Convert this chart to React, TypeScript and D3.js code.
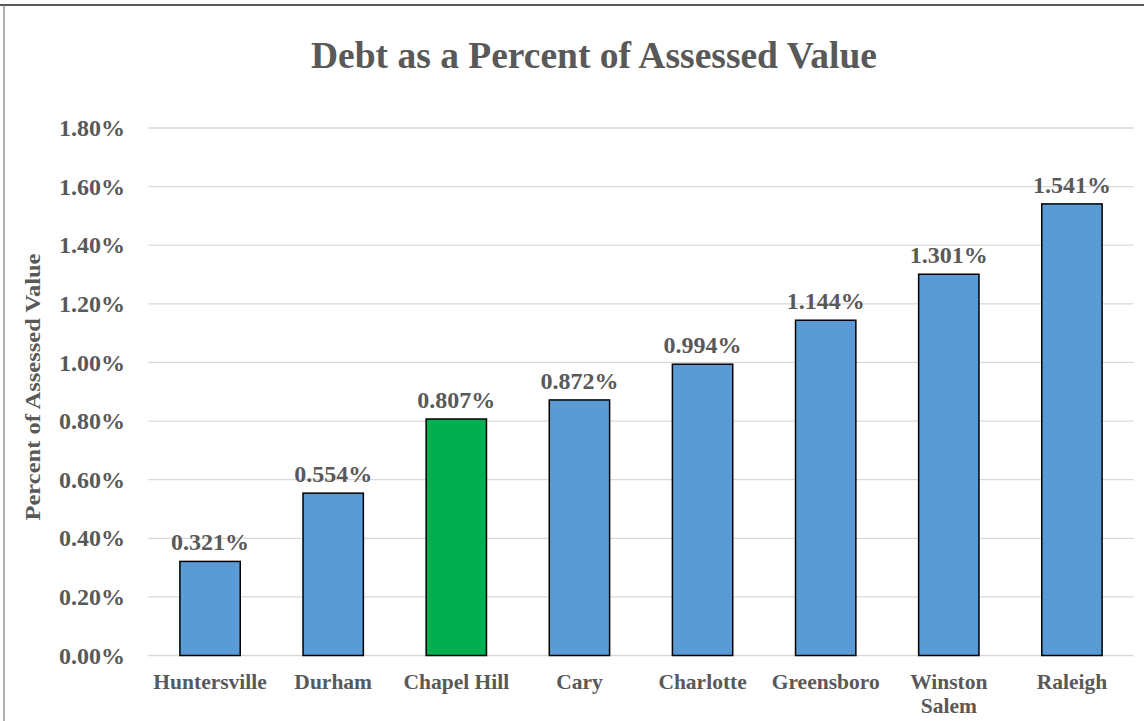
import React from "react";
import * as d3 from "d3";

const categories: string[][] = [
  ["Huntersville"],
  ["Durham"],
  ["Chapel Hill"],
  ["Cary"],
  ["Charlotte"],
  ["Greensboro"],
  ["Winston", "Salem"],
  ["Raleigh"],
];
const values: number[] = [0.321, 0.554, 0.807, 0.872, 0.994, 1.144, 1.301, 1.541];
const highlight: boolean[] = [false, false, true, false, false, false, false, false];
const yTicks: number[] = [0, 0.2, 0.4, 0.6, 0.8, 1.0, 1.2, 1.4, 1.6, 1.8];
const title = "Debt as a Percent of Assessed Value";
const yTitle = "Percent of Assessed Value";

const W = 1144;
const H = 721;
const FONT = "'Liberation Serif', 'Times New Roman', serif";
const TXT = "#595959";

export default function App() {
  const left = 148.5;
  const right = 1133.5;
  const top = 128;
  const bottom = 655.5;

  const x = d3
    .scaleBand<number>()
    .domain(values.map((_, i) => i))
    .range([left, right])
    .paddingInner(0.51)
    .paddingOuter(0.255);
  const y = d3.scaleLinear().domain([0, 1.8]).range([bottom, top]);

  return (
    <svg
      width={W}
      height={H}
      style={{ position: "absolute", left: 0, top: 0, background: "#fff" }}
    >
      <rect x={0} y={0} width={W} height={H} fill="#fff" />
      {/* frame */}
      <line x1={0} x2={W} y1={5} y2={5} stroke="#222" strokeWidth={1.5} />
      <line x1={4} x2={4} y1={5} y2={H} stroke="#7f7f7f" strokeWidth={1.2} />

      {/* title */}
      <text
        x={594}
        y={68}
        textAnchor="middle"
        fontFamily={FONT}
        fontWeight="bold"
        fontSize={37.5}
        fill={TXT}
      >
        {title}
      </text>

      {/* gridlines + y ticks */}
      {yTicks.map((t) => (
        <g key={t}>
          <line
            x1={left}
            x2={right}
            y1={y(t)}
            y2={y(t)}
            stroke="#D9D9D9"
            strokeWidth={1.3}
          />
          <text
            x={125}
            y={y(t)}
            dy="0.34em"
            textAnchor="end"
            fontFamily={FONT}
            fontWeight="bold"
            fontSize={24}
            fill={TXT}
          >
            {d3.format(".2f")(t) + "%"}
          </text>
        </g>
      ))}

      {/* y title */}
      <text
        transform={`translate(40,387) rotate(-90)`}
        textAnchor="middle"
        fontFamily={FONT}
        fontWeight="bold"
        fontSize={22}
        fill={TXT}
        textLength={267}
        lengthAdjust="spacingAndGlyphs"
      >
        {yTitle}
      </text>

      {/* bars */}
      {values.map((v, i) => (
        <g key={i}>
          <rect
            x={x(i)}
            y={y(v)}
            width={x.bandwidth()}
            height={y(0) - y(v)}
            fill={highlight[i] ? "#00B050" : "#5B9BD5"}
            stroke="#000"
            strokeWidth={1.5}
          />
          <text
            x={(x(i) as number) + x.bandwidth() / 2}
            y={y(v) - 11}
            textAnchor="middle"
            fontFamily={FONT}
            fontWeight="bold"
            fontSize={24}
            fill={TXT}
          >
            {d3.format(".3f")(v) + "%"}
          </text>
          <text
            textAnchor="middle"
            fontFamily={FONT}
            fontWeight="bold"
            fontSize={21.5}
            fill={TXT}
          >
            {categories[i].map((line, j) => (
              <tspan
                key={j}
                x={(x(i) as number) + x.bandwidth() / 2}
                y={689 + j * 24}
              >
                {line}
              </tspan>
            ))}
          </text>
        </g>
      ))}
    </svg>
  );
}
